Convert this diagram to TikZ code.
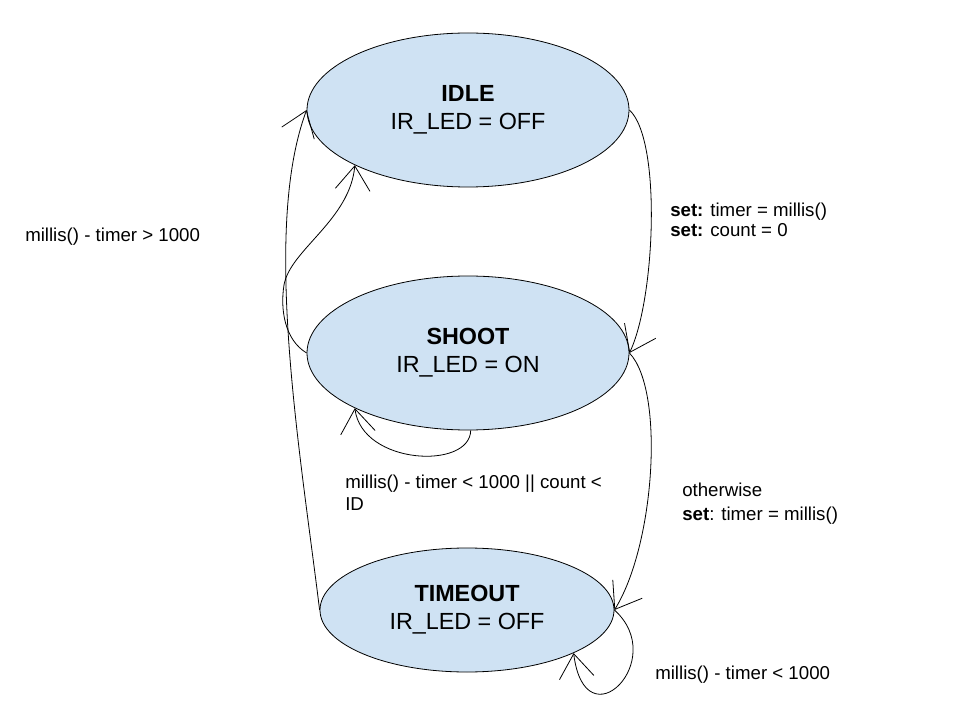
\documentclass[tikz,border=0pt]{standalone}
\usepackage{fontspec}
\setmainfont{Liberation Sans}
\usetikzlibrary{shapes.geometric,arrows.meta}
\definecolor{statefill}{RGB}{207,226,243}

\begin{document}
\begin{tikzpicture}[x=0.75pt,y=-0.75pt,
  statenode/.style={ellipse,draw,fill=statefill,line width=0.6pt,inner sep=0pt,align=center,font=\fontsize{17.5}{21}\selectfont},
  trans/.style={line width=0.6pt,-{Straight Barb[length=18pt,width=26pt,line width=0.6pt]}},
  lbl/.style={anchor=west,align=left,inner sep=0pt,font=\fontsize{14}{16.5}\selectfont}]
\useasboundingbox (0,0) rectangle (960,720);

\node[statenode,minimum width=241.5pt,minimum height=115.5pt] (idle) at (468,110) {\textbf{IDLE}\\IR\_LED = OFF};
\node[statenode,minimum width=241.5pt,minimum height=115.5pt] (shoot) at (468,353) {\textbf{SHOOT}\\IR\_LED = ON};
\node[statenode,minimum width=220.5pt,minimum height=93pt] (timeout) at (467,610) {\textbf{TIMEOUT}\\IR\_LED = OFF};

\coordinate (bend) at (284,285);

\draw[trans] (idle.east) .. controls (662,140) and (655,300) .. (shoot.east);
\draw[line width=0.6pt] (shoot.west) .. controls (285,340) and (280,310) .. (bend);
\draw[trans] (bend) .. controls (290,250) and (350,220) .. (idle.206);
\draw[trans] (shoot.272) .. controls (470,470) and (362,465) .. (shoot.206);
\draw[trans] (shoot.east) .. controls (665,390) and (655,545) .. (timeout.east);
\draw[trans] (timeout.east) .. controls (670,660) and (585,745) .. (timeout.338);
\draw[trans] (timeout.west) .. controls (300,450) and (262,230) .. (idle.west);

\node[lbl] (lidle) at (25,237) {millis() - timer > 1000};
\node[lbl,font=\fontsize{14}{15}\selectfont] (lset) at (670,220) {\textbf{set:} timer = millis()\\\textbf{set:} count = 0};
\node[lbl,font=\fontsize{14}{16.5}\selectfont] (lshoot) at (345,493) {millis() - timer < 1000 || count <\\ID};
\node[lbl,font=\fontsize{14}{18}\selectfont] (lother) at (682,504) {otherwise\\\textbf{set}: timer = millis()};
\node[lbl] (ltimeout) at (655,675) {millis() - timer < 1000};
\end{tikzpicture}
\end{document}
